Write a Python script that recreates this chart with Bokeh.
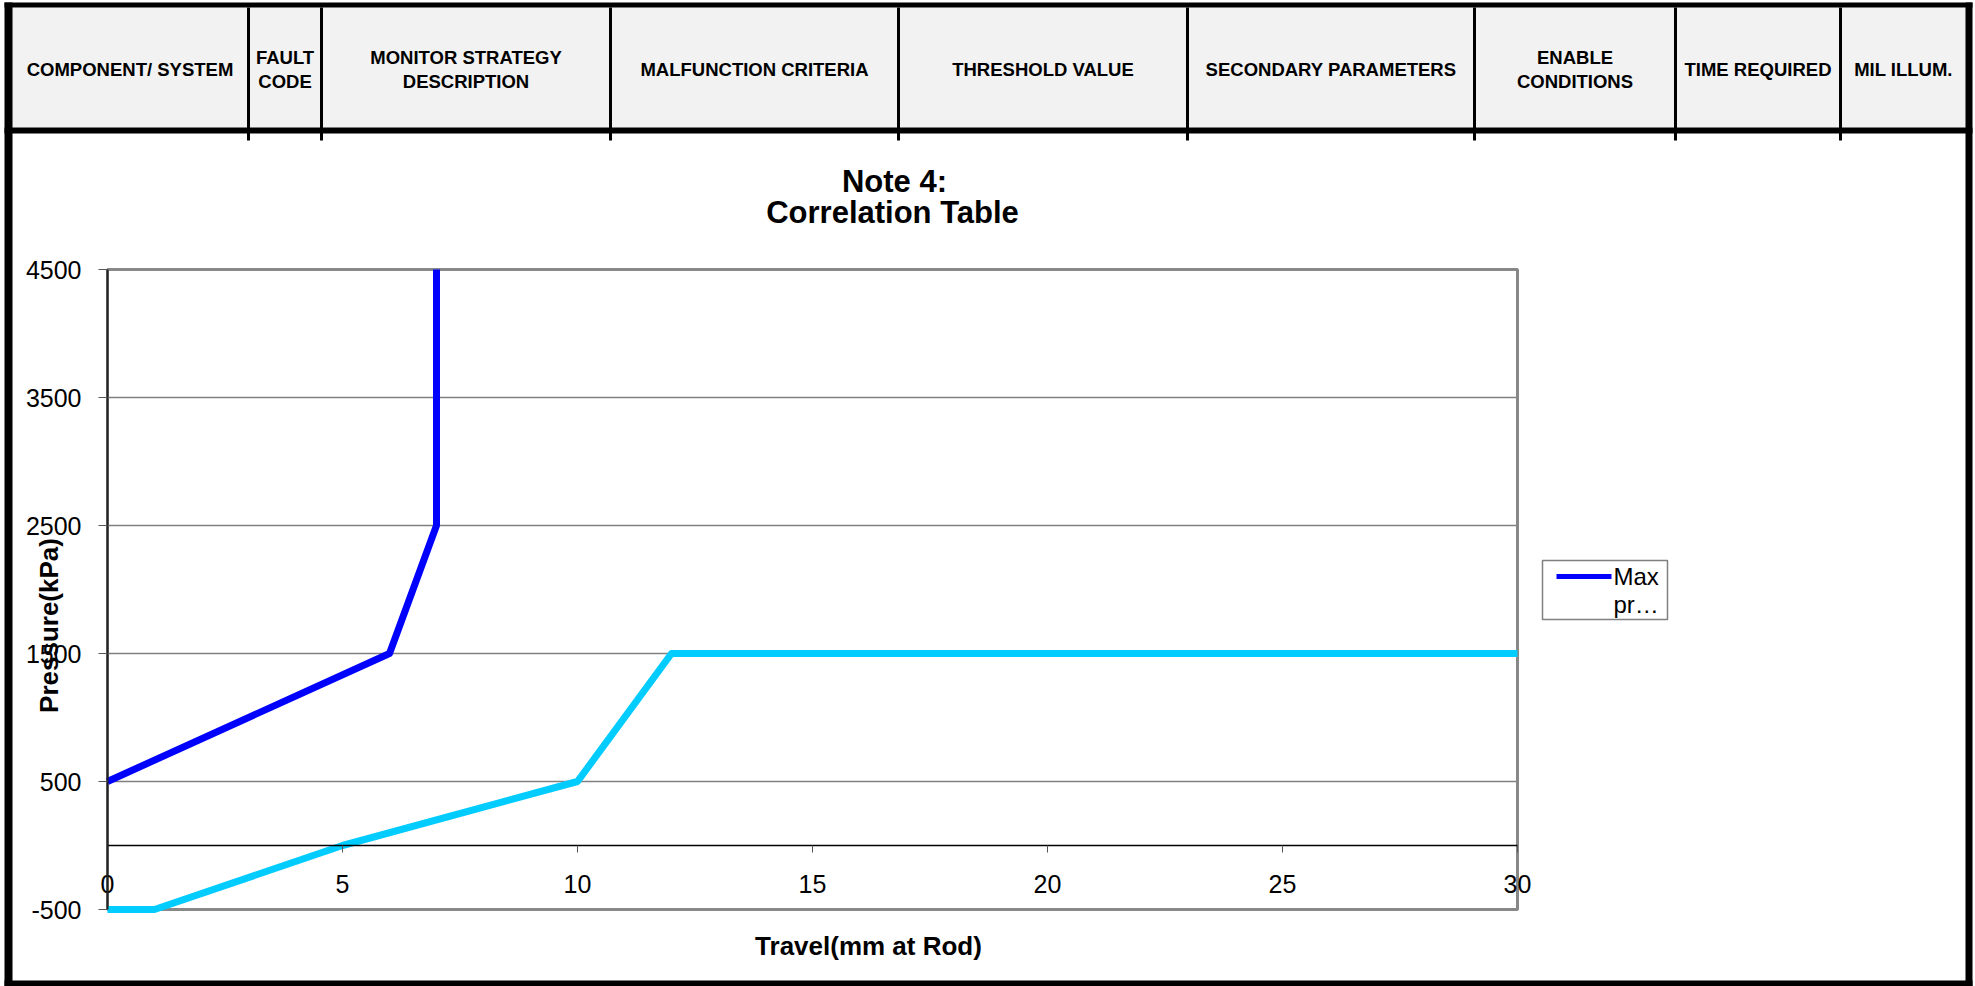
import math
from bokeh.plotting import figure
from bokeh.models import Range1d, FixedTicker, Label, BoxAnnotation, LinearAxis
from bokeh.embed import file_html
from bokeh.resources import INLINE

# ---------------- data ----------------
travel_max = [0, 6, 7, 7]
pressure_max = [500, 1500, 2500, 4500]
travel_min = [0, 1, 5, 10, 12, 30]
pressure_min = [-500, -500, 0, 500, 1500, 1500]
x_ticks = [0, 5, 10, 15, 20, 25, 30]
y_ticks = [-500, 500, 1500, 2500, 3500, 4500]
x_lim = (0, 30)
y_lim = (-500, 4500)
legend_lines = ["Max", "pr\u2026"]
title_lines = ["Note 4:", "Correlation Table"]
x_title = "Travel(mm at Rod)"
y_title = "Pressure(kPa)"
header_labels = [
    "COMPONENT/ SYSTEM",
    "FAULT\nCODE",
    "MONITOR STRATEGY\nDESCRIPTION",
    "MALFUNCTION CRITERIA",
    "THRESHOLD VALUE",
    "SECONDARY PARAMETERS",
    "ENABLE\nCONDITIONS",
    "TIME REQUIRED",
    "MIL ILLUM.",
]

# ---------------- layout ----------------
W, H = 1975, 986
PL, PR, PT, PB = 107, 1517, 269, 909          # plot area in page pixels
col_edges = [11, 248, 321, 610, 898, 1187, 1474, 1675, 1840, 1966]
FONT = "Liberation Sans"

# the frame spans the whole page; ranges chosen so that x_lim/y_lim fill the plot area
kx = (PR - PL) / (x_lim[1] - x_lim[0])
ky = (PB - PT) / (y_lim[1] - y_lim[0])
x_range = Range1d(x_lim[0] - PL / kx, x_lim[1] + (W - PR) / kx)
y_range = Range1d(y_lim[0] - (H - PB) / ky, y_lim[1] + PT / ky)

p = figure(width=W, height=H, x_range=x_range, y_range=y_range,
           output_backend="svg", toolbar_location=None,
           x_axis_location=None, y_axis_location=None,
           min_border=0, min_border_left=0, min_border_right=0,
           min_border_top=0, min_border_bottom=0,
           background_fill_color="white", border_fill_color="white")
p.outline_line_color = None
p.grid.visible = False

# plot-area border and horizontal grid lines
p.add_layout(BoxAnnotation(left=x_lim[0], right=x_lim[1], bottom=y_lim[0], top=y_lim[1],
                           fill_alpha=0, line_color="#888888", line_width=3, line_alpha=1,
                           level="underlay"))
p.segment(x0=[x_lim[0]] * len(y_ticks), x1=[x_lim[1]] * len(y_ticks),
          y0=y_ticks, y1=y_ticks, line_color="#808080", line_width=1.5, level="underlay")

# axes (fixed inside the page)
ya = LinearAxis(ticker=FixedTicker(ticks=y_ticks), fixed_location=x_lim[0], bounds=y_lim)
ya.axis_line_color = "#222222"
ya.axis_line_width = 2
ya.major_tick_out = 9
ya.major_tick_in = 0
ya.major_tick_line_color = "#555555"
ya.minor_tick_line_color = None
ya.major_label_text_font = FONT
ya.major_label_text_font_size = "25px"
ya.major_label_text_color = "black"
ya.major_label_standoff = 17
ya.major_label_overrides = {t: str(t) for t in y_ticks}
p.add_layout(ya, "left")

xa = LinearAxis(ticker=FixedTicker(ticks=x_ticks), fixed_location=0, bounds=x_lim)
xa.axis_line_color = "black"
xa.axis_line_width = 1.5
xa.major_tick_out = 7
xa.major_tick_in = 0
xa.major_tick_line_color = "#555555"
xa.minor_tick_line_color = None
xa.major_label_text_font = FONT
xa.major_label_text_font_size = "25px"
xa.major_label_text_color = "black"
xa.major_label_standoff = 22
p.add_layout(xa, "below")

p.line(travel_max, pressure_max, line_color="#0000FF", line_width=7, line_join="round")
p.line(travel_min, pressure_min, line_color="#00CCFF", line_width=7, line_join="round")


# ---------------- decorations (screen units; frame = whole page) ----------------
def sx(cx):
    return cx


def sy(cy):
    return H - cy


def rect(x0, y0, x1, y1, fill, line=None, lw=0):
    p.add_layout(BoxAnnotation(left=sx(x0), right=sx(x1), top=sy(y0), bottom=sy(y1),
                               left_units="screen", right_units="screen",
                               top_units="screen", bottom_units="screen",
                               fill_color=fill, fill_alpha=1.0,
                               line_color=line, line_width=lw, line_alpha=1.0))


def text(cx, cy, s, size, bold=False, align="center", angle=0.0):
    # cy is the vertical centre of the text line
    p.add_layout(Label(x=sx(cx), y=sy(cy), x_units="screen", y_units="screen", text=s,
                       text_font=FONT, text_font_size=f"{size}px",
                       text_font_style="bold" if bold else "normal",
                       text_align=align, text_baseline="middle", text_color="black",
                       angle=angle))


# header table
rect(col_edges[0], 7, col_edges[-1], 127, "#F2F2F2")
for e in col_edges[1:-1]:
    rect(e - 1.5, 7, e + 1.5, 140, "black")
rect(4, 2, 1972, 7, "black")
rect(4, 127, 1972, 133, "black")
rect(4, 2, 12, 986, "black")
rect(1965, 2, 1972, 986, "black")
rect(4, 980, 1972, 986, "black")

for i, lab in enumerate(header_labels):
    cx = (col_edges[i] + col_edges[i + 1]) / 2
    lines = lab.split("\n")
    if len(lines) == 1:
        text(cx, 69, lines[0], 18.5, bold=True)
    else:
        text(cx, 57, lines[0], 18.5, bold=True)
        text(cx, 81, lines[1], 18.5, bold=True)

# titles
text(894, 181, title_lines[0], 31, bold=True)
text(892, 212, title_lines[1], 31, bold=True)
text(868, 945, x_title, 26, bold=True)
text(48, 625, y_title, 26, bold=True, angle=math.pi / 2)

# legend
rect(1542, 560, 1667, 619, "white", line="#808080", lw=1.5)
rect(1556, 573.5, 1611, 578.5, "#0000FF")
text(1613, 576, legend_lines[0], 24, align="left")
text(1613, 604, legend_lines[1], 24, align="left")

open("out.html", "w", encoding="utf-8").write(file_html(p, INLINE))
